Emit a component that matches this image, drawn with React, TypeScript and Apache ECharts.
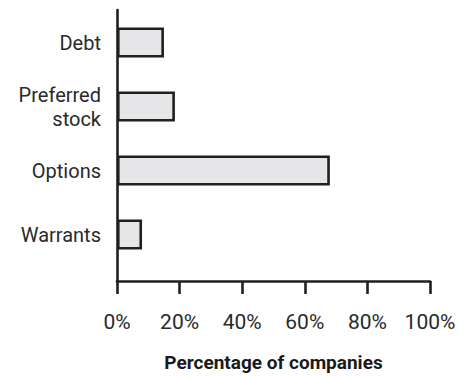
import React, { useEffect, useRef } from "react";
import * as echarts from "echarts";

const categories = ["Debt", "Preferred\nstock", "Options", "Warrants"];
const values = [15, 18.5, 68, 8];
const xTicks = [0, 20, 40, 60, 80, 100];
const xAxisTitle = "Percentage of companies";

export default function App() {
  const ref = useRef<HTMLDivElement>(null);
  useEffect(() => {
    if (!ref.current) return;
    const chart = echarts.init(ref.current, null, { renderer: "svg" });
    const font = "Roboto, 'Noto Sans', sans-serif";
    const dark = "#231f20";
    chart.setOption({
      animation: false,
      backgroundColor: "#ffffff",
      grid: [
        { left: 117, top: 10.5, width: 313, height: 256 },
        { left: 117, top: 10, width: 313, height: 273 },
      ],
      xAxis: [
        {
          gridIndex: 0,
          type: "value",
          min: xTicks[0],
          max: xTicks[xTicks.length - 1],
          show: false,
        },
        {
          gridIndex: 1,
          type: "value",
          min: xTicks[0],
          max: xTicks[xTicks.length - 1],
          interval: 20,
          axisLine: { show: true, lineStyle: { color: dark, width: 2.6 } },
          axisTick: { show: true, inside: false, length: 13, lineStyle: { color: dark, width: 2.6 } },
          splitLine: { show: false },
          axisLabel: {
            formatter: "{value}%",
            margin: 30,
            fontSize: 21,
            color: "#2a2a2a",
            fontFamily: font,
          },
          name: xAxisTitle,
          nameLocation: "middle",
          nameGap: 72,
          nameTextStyle: {
            fontSize: 19,
            fontWeight: "bold",
            color: "#1a1a1a",
            fontFamily: font,
          },
        },
      ],
      yAxis: [
        {
          gridIndex: 0,
          type: "category",
          data: categories,
          inverse: true,
          axisLine: { show: false },
          axisTick: { show: false },
          axisLabel: {
            margin: 16,
            fontSize: 20,
            lineHeight: 24,
            color: "#2a2a2a",
            fontFamily: font,
            align: "right",
          },
        },
        {
          gridIndex: 1,
          type: "value",
          min: 0,
          max: 1,
          axisLine: { show: true, onZero: false, lineStyle: { color: dark, width: 2.6 } },
          axisTick: { show: false },
          axisLabel: { show: false },
          splitLine: { show: false },
        },
      ],
      series: [
        {
          type: "bar",
          xAxisIndex: 0,
          yAxisIndex: 0,
          data: values,
          barWidth: 30,
          itemStyle: {
            color: "#e6e6e8",
            borderColor: dark,
            borderWidth: 2.6,
          },
        },
      ],
    });
    return () => chart.dispose();
  }, []);
  return (
    <div
      ref={ref}
      style={{ position: "absolute", left: 0, top: 0, width: 472, height: 377 }}
    />
  );
}
